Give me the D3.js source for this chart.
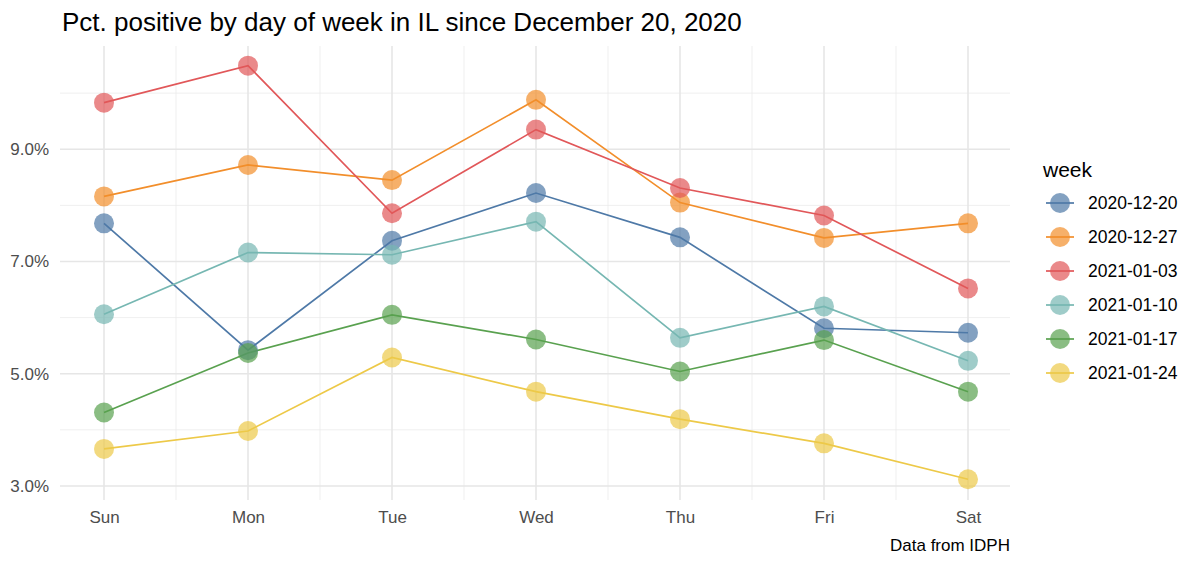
<!DOCTYPE html>
<html>
<head>
<meta charset="utf-8">
<script src="https://cdn.jsdelivr.net/npm/d3@7"></script>
<style>
  body { margin: 0; background: #fff; }
  svg { font-family: Arial, "Liberation Sans", sans-serif; }
</style>
</head>
<body>
<svg width="1200" height="565"></svg>
<script>
// data (pct positive)
var days = ["Sun", "Mon", "Tue", "Wed", "Thu", "Fri", "Sat"];
var weeks = ["2020-12-20", "2020-12-27", "2021-01-03", "2021-01-10", "2021-01-17", "2021-01-24"];
var wk1220 = [7.68, 5.42, 7.37, 8.22, 7.43, 5.81, 5.73];
var wk1227 = [8.16, 8.72, 8.45, 9.88, 8.05, 7.42, 7.68];
var wk0103 = [9.83, 10.49, 7.86, 9.35, 8.31, 7.82, 6.52];
var wk0110 = [6.06, 7.16, 7.12, 7.71, 5.64, 6.20, 5.23];
var wk0117 = [4.31, 5.37, 6.05, 5.61, 5.04, 5.60, 4.68];
var wk0124 = [3.66, 3.98, 5.29, 4.68, 4.19, 3.76, 3.12];
var yTicks = [3, 5, 7, 9];
var yMinor = [4, 6, 8, 10];
var colors = ["#4E79A7", "#F28E2B", "#E15759", "#76B7B2", "#59A14F", "#EDC948"];

var series = [wk1220, wk1227, wk0103, wk0110, wk0117, wk0124].map(function(v, i) {
  return { week: weeks[i], values: v, color: colors[i] };
});

var svg = d3.select("svg");
var pLeft = 60, pRight = 1010, pTop = 46, pBottom = 500;

var x = d3.scalePoint().domain(days).range([104, 968]);
var y = d3.scaleLinear().domain([2.75, 10.84]).range([pBottom, pTop]);
var step = x.step();

// grid
var grid = svg.append("g");
grid.selectAll(".ymin").data(yMinor).enter().append("line")
  .attr("x1", pLeft).attr("x2", pRight)
  .attr("y1", function(d) { return y(d); }).attr("y2", function(d) { return y(d); })
  .style("stroke", "#ebebeb").style("stroke-width", 0.8);
grid.selectAll(".xmin").data(days.slice(0, -1)).enter().append("line")
  .attr("x1", function(d) { return x(d) + step / 2; }).attr("x2", function(d) { return x(d) + step / 2; })
  .attr("y1", pTop).attr("y2", pBottom)
  .style("stroke", "#ebebeb").style("stroke-width", 0.8);
grid.selectAll(".ymaj").data(yTicks).enter().append("line")
  .attr("x1", pLeft).attr("x2", pRight)
  .attr("y1", function(d) { return y(d); }).attr("y2", function(d) { return y(d); })
  .style("stroke", "#e6e6e6").style("stroke-width", 1.6);
grid.selectAll(".xmaj").data(days).enter().append("line")
  .attr("x1", function(d) { return x(d); }).attr("x2", function(d) { return x(d); })
  .attr("y1", pTop).attr("y2", pBottom)
  .style("stroke", "#e6e6e6").style("stroke-width", 1.6);

// axes (text only)
var yAxis = svg.append("g").attr("transform", "translate(" + pLeft + ",0)")
  .call(d3.axisLeft(y).tickValues(yTicks).tickSize(0).tickPadding(11)
    .tickFormat(function(d) { return d3.format(".1f")(d) + "%"; }));
yAxis.select(".domain").remove();
yAxis.attr("font-size", null).attr("font-family", null);
yAxis.selectAll("text").style("font-size", "17px").style("fill", "#4d4d4d");

var xAxis = svg.append("g").attr("transform", "translate(0," + pBottom + ")")
  .call(d3.axisBottom(x).tickSize(0).tickPadding(11));
xAxis.select(".domain").remove();
xAxis.attr("font-size", null).attr("font-family", null);
xAxis.selectAll("text").style("font-size", "17px").style("fill", "#4d4d4d");

// lines and points
var line = d3.line()
  .x(function(d, i) { return x(days[i]); })
  .y(function(d) { return y(d); });

var g = svg.append("g");
series.forEach(function(s) {
  g.append("path").datum(s.values)
    .attr("d", line)
    .style("fill", "none").style("stroke", s.color).style("stroke-width", 1.7);
});
series.forEach(function(s) {
  g.selectAll(null).data(s.values).enter().append("circle")
    .attr("cx", function(d, i) { return x(days[i]); })
    .attr("cy", function(d) { return y(d); })
    .attr("r", 10)
    .style("fill", s.color).style("opacity", 0.7);
});

// title + caption
svg.append("text").attr("x", 62).attr("y", 31)
  .text("Pct. positive by day of week in IL since December 20, 2020")
  .style("font-size", "26px").style("fill", "#000");
svg.append("text").attr("x", pRight).attr("y", 551).attr("text-anchor", "end")
  .text("Data from IDPH").style("font-size", "17px").style("fill", "#000");

// legend
var leg = svg.append("g");
leg.append("text").attr("x", 1043).attr("y", 177).text("week")
  .style("font-size", "21px").style("fill", "#000");
var items = leg.selectAll(".item").data(series).enter().append("g")
  .attr("transform", function(d, i) { return "translate(1060," + (203 + i * 34) + ")"; });
items.append("circle").attr("r", 10)
  .style("fill", function(d) { return d.color; }).style("opacity", 0.7);
items.append("line").attr("x1", -14).attr("x2", 14)
  .style("stroke", function(d) { return d.color; }).style("stroke-width", 1.7);
items.append("text").attr("x", 28).attr("dy", "0.36em")
  .text(function(d) { return d.week; })
  .style("font-size", "17.5px").style("fill", "#000");
</script>
</body>
</html>
